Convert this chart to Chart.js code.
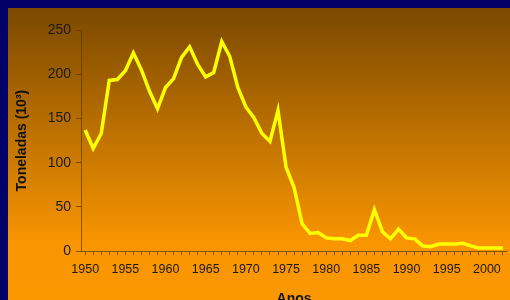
<!DOCTYPE html>
<html>
<head>
<meta charset="utf-8">
<script src="https://cdn.jsdelivr.net/npm/chart.js@4"></script>
<style>
  html, body { margin: 0; padding: 0; background: #000066; overflow: hidden; }
  #wrap {
    position: absolute; left: 8px; top: 8px; width: 502px; height: 292px; overflow: hidden;
    background: linear-gradient(to bottom, #7a4900 0px, #9a5c00 60px, #d07d00 160px, #f99500 235px, #fb9800 292px);
  }
  #box { position: absolute; left: 0; top: 0; width: 502px; height: 304px; }
</style>
</head>
<body>
<div id="wrap"><div id="box"><canvas id="chart"></canvas></div></div>
<script>
// anos 1950-2002
const anos = [];
for (let a = 1950; a <= 2002; a++) anos.push(a);

// toneladas (10^3)
const toneladas = [
  137, 116, 133, 193, 194, 204, 224, 205, 181, 161,
  185, 195, 219, 231, 211, 197, 202, 237, 220, 185,
  163, 151, 133, 124, 159, 95, 72, 31, 20, 21,
  15, 14, 14, 12, 18, 18, 47, 22, 14, 25,
  15, 14, 6, 5, 8, 8, 8, 9, 6, 3.5,
  3.5, 3.5, 3.5
];

const eixoCor = "rgba(90, 55, 0, 0.7)";
const familia = "'Liberation Sans', Arial, sans-serif";

new Chart(document.getElementById("chart"), {
  type: "line",
  data: {
    labels: anos,
    datasets: [{
      label: "Toneladas",
      data: toneladas,
      borderColor: "#ffff00",
      borderWidth: 3.5,
      pointRadius: 0,
      tension: 0,
      fill: false
    }]
  },
  options: {
    responsive: true,
    maintainAspectRatio: false,
    animation: false,
    layout: { padding: { top: 22, right: 3, left: 2 } },
    plugins: { legend: { display: false }, tooltip: { enabled: false } },
    scales: {
      x: {
        type: "category",
        offset: true,
        border: { color: eixoCor, width: 1 },
        grid: { drawOnChartArea: false, color: eixoCor, tickLength: 4 },
        ticks: {
          autoSkip: false,
          maxRotation: 0,
          color: "#1a1a1a",
          font: { family: familia, size: 12.5 },
          padding: 7,
          callback: function (v, i) {
            const a = anos[i];
            return a % 5 === 0 ? String(a) : "";
          }
        },
        title: {
          display: true,
          text: "Anos",
          color: "#111",
          font: { family: familia, size: 14, weight: "bold" },
          padding: { top: 7 }
        }
      },
      y: {
        min: 0,
        max: 250,
        border: { color: eixoCor, width: 1 },
        grid: { drawOnChartArea: false, color: eixoCor, tickLength: 5 },
        ticks: { stepSize: 50, color: "#1a1a1a", font: { family: familia, size: 14 }, padding: 5 },
        title: {
          display: true,
          text: "Toneladas (10³)",
          color: "#111",
          font: { family: familia, size: 14, weight: "bold" },
          padding: { bottom: 12 }
        }
      }
    }
  }
});
</script>
</body>
</html>
